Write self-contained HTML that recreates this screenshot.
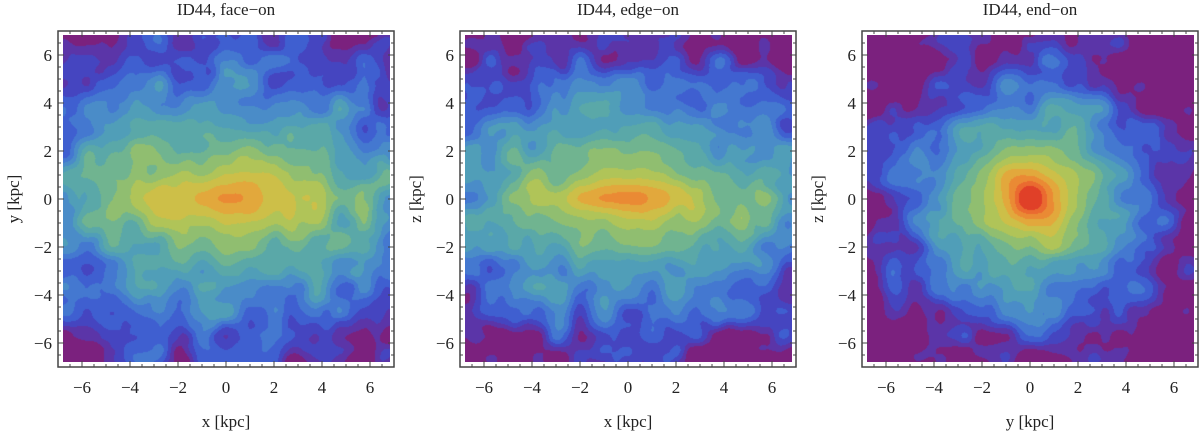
<!DOCTYPE html>
<html><head><meta charset="utf-8"><style>
html,body{margin:0;padding:0;background:#fff;width:1200px;height:431px;overflow:hidden}
#root{position:relative;width:1200px;height:431px}
canvas{position:absolute}
svg{position:absolute;left:0;top:0}
text{font-family:"Liberation Serif",serif;fill:#222}
</style></head><body>
<div id="root">
<canvas id="c0" width="327" height="327" style="left:63px;top:35px"></canvas>
<canvas id="c1" width="327" height="327" style="left:465px;top:35px"></canvas>
<canvas id="c2" width="327" height="327" style="left:867px;top:35px"></canvas>
<svg id="ax" width="1200" height="431"></svg>
</div>
<script>
// chart data
const panelTitles = ["ID44, face\u2212on","ID44, edge\u2212on","ID44, end\u2212on"];
const xLabels = ["x [kpc]","x [kpc]","y [kpc]"];
const yLabels = ["y [kpc]","z [kpc]","z [kpc]"];
const tickValues = [-6,-4,-2,0,2,4,6];
const centerLevels = [13.7, 13.6, 20.0];
const radialSlopes = [1.0, 1.05, 7.2];
const radialPowers = [1.0, 1.0, 0.5];
const flattenInner = [3.0, 3.1, 1.0];
const flattenOuter = [1.55, 1.5, 1.0];
const noiseSeeds = [11, 47, 83];
const palette = ["#7b217e","#5b35a8","#4545c0","#3f5fd0","#4478d0","#4a8cc8","#509eb8","#5aa8a8","#70b490","#90be70","#b0c458","#cdbf48","#e2a83c","#ea8a34","#ea6a30","#e04028"];

const S = 24, DLIM = 6.8, FLIM = 7.0;
const panelCx = [226, 628, 1030], cy = 199;

function hash(i,j,s){let h=(i*374761393+j*668265263+s*982451653)|0;h=(h^(h>>>13))*1274126177|0;h=h^(h>>>16);return ((h>>>0)%10000)/10000*2-1;}
function vnoise(x,y,s){const xi=Math.floor(x),yi=Math.floor(y);let fx=x-xi,fy=y-yi;fx=fx*fx*(3-2*fx);fy=fy*fy*(3-2*fy);
 const a=hash(xi,yi,s),b=hash(xi+1,yi,s),c=hash(xi,yi+1,s),d=hash(xi+1,yi+1,s);
 return (a*(1-fx)+b*fx)*(1-fy)+(c*(1-fx)+d*fx)*fy;}
function level(p,x,y){
 const k=flattenOuter[p]+(flattenInner[p]-flattenOuter[p])/(1+(y/2.5)*(y/2.5));
 const re=Math.sqrt(x*x+(k*y)*(k*y));
 let v=centerLevels[p]-radialSlopes[p]*Math.pow(re,radialPowers[p]);
 const r=Math.sqrt(x*x+y*y);
 const amp=0.25+1.1*Math.min(1,r/5.5);
 const n=vnoise(x*1.05,y*1.05,noiseSeeds[p])*0.85+vnoise(x*1.9+7,y*1.9+3,noiseSeeds[p]+5)*0.3;
 v+=amp*n*1.8;
 return Math.max(0,Math.min(palette.length-1,Math.floor(v)));
}
for(let p=0;p<3;p++){
 const cv=document.getElementById('c'+p),ctx=cv.getContext('2d');
 const img=ctx.createImageData(327,327);
 const rgb=palette.map(h=>[parseInt(h.substr(1,2),16),parseInt(h.substr(3,2),16),parseInt(h.substr(5,2),16)]);
 for(let j=0;j<327;j++)for(let i=0;i<327;i++){
  const x=-DLIM+(i+0.5)/S, y=DLIM-(j+0.5)/S;
  const c=rgb[level(p,x,y)];const o=(j*327+i)*4;
  img.data[o]=c[0];img.data[o+1]=c[1];img.data[o+2]=c[2];img.data[o+3]=255;
 }
 ctx.putImageData(img,0,0);
}
const svg=document.getElementById('ax'),NS="http://www.w3.org/2000/svg";
function el(t,a,txt){const e=document.createElementNS(NS,t);for(const k in a)e.setAttribute(k,a[k]);if(txt!==undefined)e.textContent=txt;svg.appendChild(e);return e;}
for(let p=0;p<3;p++){
 const cx=panelCx[p];
 const X=v=>cx+v*S, Y=v=>cy-v*S;
 let e=el('rect',{x:X(-FLIM),y:Y(FLIM),width:2*FLIM*S,height:2*FLIM*S,fill:'none',stroke:'#444','stroke-width':1.5});
 
 
 for(let t=-7;t<=7.001;t+=0.5){
  const major=Math.abs(t%2)<1e-6; const L=major?6:3;
  el('line',{x1:X(t),x2:X(t),y1:Y(-FLIM),y2:Y(-FLIM)-L,stroke:'#444','stroke-width':1});
  el('line',{x1:X(t),x2:X(t),y1:Y(FLIM),y2:Y(FLIM)+L,stroke:'#444','stroke-width':1});
  el('line',{x1:X(-FLIM),x2:X(-FLIM)+L,y1:Y(t),y2:Y(t),stroke:'#444','stroke-width':1});
  el('line',{x1:X(FLIM),x2:X(FLIM)-L,y1:Y(t),y2:Y(t),stroke:'#444','stroke-width':1});
 }
 tickValues.forEach(t=>{
  const lab=(t<0?'\u2212':'')+Math.abs(t);
  e=el('text',{x:X(t),y:393,'font-size':17,'text-anchor':'middle'},lab);
  
  
  e=el('text',{x:X(-FLIM)-6,y:Y(t)+6,'font-size':17,'text-anchor':'end'},lab);
  
  
 });
 e=el('text',{x:cx,y:15,'font-size':17,'text-anchor':'middle'},panelTitles[p]);
 
 
 e=el('text',{x:cx,y:427,'font-size':17,'text-anchor':'middle'},xLabels[p]);
 
 
 e=el('text',{x:0,y:0,'font-size':17,'text-anchor':'middle',transform:`translate(${cx-207},${cy}) rotate(-90)`},yLabels[p]);
 
 
}
</script>
</body></html>
